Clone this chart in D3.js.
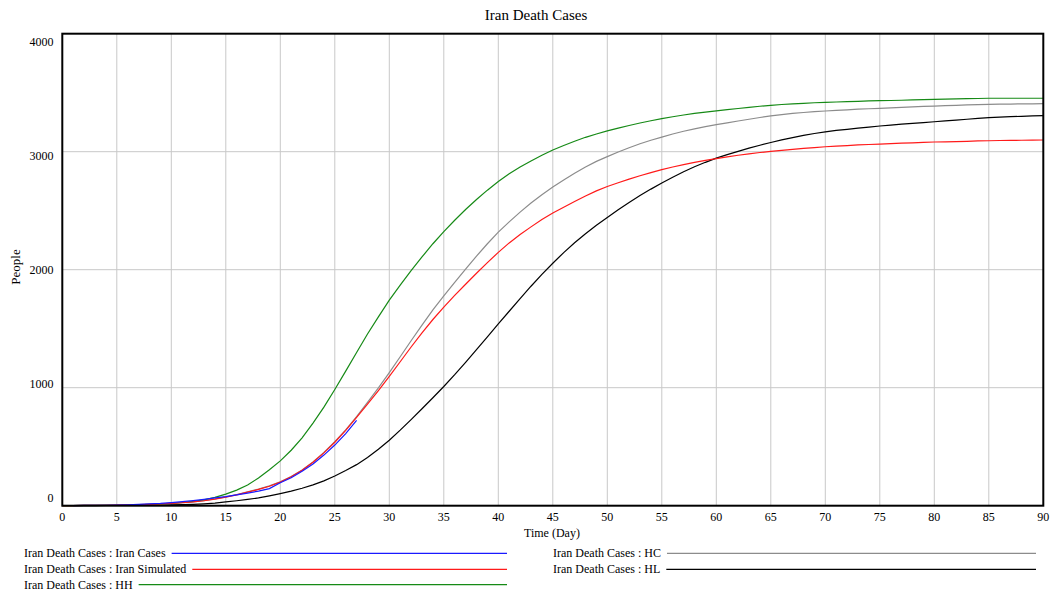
<!DOCTYPE html>
<html>
<head>
<meta charset="utf-8">
<script src="https://cdn.jsdelivr.net/npm/d3@7"></script>
<style>
  body { margin: 0; background: #fff; }
  text { font-family: "Liberation Serif", "Times New Roman", serif; fill: #000; }
</style>
</head>
<body>
<div id="chart"></div>
<script>
const days = d3.range(0, 91);

const yTicks = [0, 1000, 2000, 3000, 4000];
const xTicks = [0, 5, 10, 15, 20, 25, 30, 35, 40, 45, 50, 55, 60, 65, 70, 75, 80, 85, 90];

// Iran Cases (reported), days 1..27
const casesDays = d3.range(1, 28);
const iranCases = [0, 2, 2, 4, 5, 8, 12, 16, 19, 26, 34, 43, 54, 66, 77, 92, 107, 124, 145, 194,
  237, 291, 354, 429, 514, 611, 724];

const iranSimulated = [0, 1, 2, 3, 4, 5, 7, 9, 12, 15, 19, 25, 32, 42, 55, 72, 92, 115, 138, 165,
  200, 245, 300, 368, 448, 538, 638, 748, 860, 975, 1095, 1220, 1345, 1465, 1578, 1683, 1782, 1877, 1970, 2060,
  2147, 2227, 2298, 2363, 2425, 2480, 2530, 2578, 2624, 2668, 2705, 2737, 2767, 2796, 2823, 2848, 2870, 2890, 2910, 2927,
  2942, 2956, 2970, 2982, 2993, 3003, 3012, 3020, 3028, 3035, 3042, 3047, 3052, 3057, 3061, 3065, 3068, 3072, 3075, 3079,
  3082, 3084, 3086, 3088, 3091, 3093, 3095, 3096, 3097, 3098, 3099];

const hh = [1, 1, 2, 2, 3, 4, 6, 8, 11, 15, 20, 27, 37, 50, 70, 98, 132, 175, 235, 305,
  380, 470, 575, 700, 835, 985, 1140, 1298, 1455, 1600, 1742, 1870, 1993, 2108, 2220, 2323, 2419, 2510, 2595, 2674,
  2748, 2813, 2870, 2922, 2970, 3014, 3053, 3089, 3122, 3150, 3176, 3200, 3222, 3243, 3262, 3280, 3296, 3311, 3324, 3336,
  3346, 3356, 3366, 3375, 3385, 3393, 3400, 3405, 3410, 3415, 3418, 3421, 3424, 3427, 3430, 3432, 3434, 3436, 3439, 3441,
  3444, 3446, 3448, 3450, 3451, 3453, 3453, 3453, 3453, 3453, 3453];

const hc = [0, 1, 2, 3, 4, 5, 7, 9, 12, 15, 19, 25, 33, 43, 57, 75, 95, 118, 141, 168,
  203, 248, 303, 370, 452, 542, 642, 755, 875, 998, 1128, 1262, 1398, 1530, 1660, 1778, 1892, 2005, 2115, 2220,
  2318, 2405, 2488, 2565, 2636, 2700, 2760, 2817, 2870, 2918, 2958, 2997, 3034, 3067, 3097, 3124, 3150, 3173, 3194, 3212,
  3229, 3245, 3260, 3275, 3290, 3303, 3314, 3324, 3332, 3339, 3345, 3350, 3355, 3360, 3364, 3368, 3372, 3376, 3380, 3384,
  3387, 3390, 3393, 3396, 3399, 3401, 3403, 3404, 3405, 3406, 3407];

const hl = [0, 0, 1, 1, 2, 2, 3, 4, 5, 6, 7, 9, 12, 16, 22, 32, 42, 53, 66, 84,
  103, 124, 148, 177, 210, 252, 298, 348, 408, 478, 555, 640, 730, 822, 915, 1010, 1110, 1215, 1322, 1430,
  1540, 1648, 1755, 1860, 1960, 2055, 2145, 2228, 2305, 2376, 2443, 2508, 2570, 2628, 2683, 2735, 2784, 2830, 2872, 2910,
  2945, 2975, 3003, 3030, 3055, 3078, 3100, 3120, 3138, 3154, 3168, 3180, 3190, 3200, 3209, 3218, 3226, 3233, 3240, 3247,
  3254, 3261, 3268, 3275, 3282, 3288, 3293, 3297, 3300, 3303, 3305];

const series = [
  { name: "Iran Death Cases : HL", x: days, y: hl, color: "#000000", col: 1, row: 1 },
  { name: "Iran Death Cases : HC", x: days, y: hc, color: "#8c8c8c", col: 1, row: 0 },
  { name: "Iran Death Cases : HH", x: days, y: hh, color: "#168a16", col: 0, row: 2 },
  { name: "Iran Death Cases : Iran Simulated", x: days, y: iranSimulated, color: "#ff1a1a", col: 0, row: 1 },
  { name: "Iran Death Cases : Iran Cases", x: casesDays, y: iranCases, color: "#1a1aff", col: 0, row: 0 }
];

const width = 1054, height = 595;
const plotLeft = 62.3, plotRight = 1043.3, plotTop = 33.7, plotBottom = 505.7;

const svg = d3.select("#chart").append("svg")
  .attr("width", width)
  .attr("height", height);

const x = d3.scaleLinear().domain([0, 90]).range([plotLeft, plotRight]);
const y = d3.scaleLinear().domain([0, 4000]).range([plotBottom, plotTop]);

// grid
svg.append("g")
  .selectAll("line")
  .data(xTicks.slice(1, -1))
  .enter().append("line")
  .attr("x1", d => x(d)).attr("x2", d => x(d))
  .attr("y1", plotTop).attr("y2", plotBottom)
  .attr("stroke", "#c8c8c8")
  .attr("stroke-width", 1);

svg.append("g")
  .selectAll("line")
  .data(yTicks.slice(1, -1))
  .enter().append("line")
  .attr("x1", plotLeft).attr("x2", plotRight)
  .attr("y1", d => y(d)).attr("y2", d => y(d))
  .attr("stroke", "#c8c8c8")
  .attr("stroke-width", 1);

// y tick labels, Vensim-style: end labels pulled inside the frame
svg.append("g")
  .selectAll("text")
  .data(yTicks)
  .enter().append("text")
  .attr("x", 53.5)
  .attr("y", (d, i) => y(d) - 4 + i * 4)
  .attr("text-anchor", "end")
  .style("font-size", "12px")
  .text(d => d);

svg.append("g")
  .selectAll("text")
  .data(xTicks)
  .enter().append("text")
  .attr("x", d => x(d))
  .attr("y", 521)
  .attr("text-anchor", "middle")
  .style("font-size", "12px")
  .text(d => d);

// series lines
const line = s => d3.line()
  .x((d, i) => x(s.x[i]))
  .y(d => y(d))(s.y);

svg.append("g")
  .selectAll("path")
  .data(series)
  .enter().append("path")
  .attr("d", d => line(d))
  .attr("fill", "none")
  .attr("stroke", d => d.color)
  .attr("stroke-width", 1.2);

// frame
svg.append("rect")
  .attr("x", plotLeft).attr("y", plotTop)
  .attr("width", plotRight - plotLeft).attr("height", plotBottom - plotTop)
  .attr("fill", "none")
  .attr("stroke", "#000")
  .attr("stroke-width", 2);

svg.append("text")
  .attr("x", 536)
  .attr("y", 20)
  .attr("text-anchor", "middle")
  .style("font-size", "15px")
  .text("Iran Death Cases");

svg.append("text")
  .attr("x", 552)
  .attr("y", 537)
  .attr("text-anchor", "middle")
  .style("font-size", "12px")
  .text("Time (Day)");

svg.append("text")
  .attr("transform", "translate(20,267) rotate(-90)")
  .attr("text-anchor", "middle")
  .style("font-size", "13px")
  .text("People");

// legend
const colX = [24, 553], colEnd = [507, 1036];
const rowY = [553.3, 569.3, 584.7];

const legendItems = svg.append("g")
  .selectAll("g")
  .data(series)
  .enter().append("g");

legendItems.append("text")
  .attr("x", d => colX[d.col])
  .attr("y", d => rowY[d.row] + 4)
  .style("font-size", "12px")
  .text(d => d.name);

legendItems.each(function(d) {
  const g = d3.select(this);
  const w = g.select("text").node().getComputedTextLength();
  g.append("line")
    .attr("x1", colX[d.col] + w + 6)
    .attr("x2", colEnd[d.col])
    .attr("y1", rowY[d.row]).attr("y2", rowY[d.row])
    .attr("stroke", d.color)
    .attr("stroke-width", 1.2);
});
</script>
</body>
</html>
